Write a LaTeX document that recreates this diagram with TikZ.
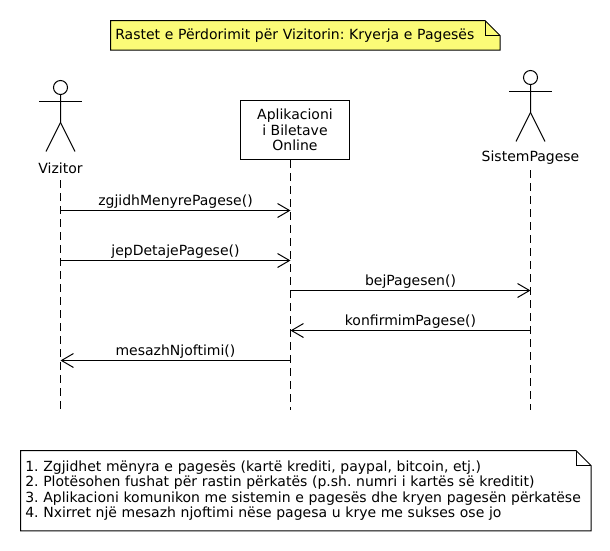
\documentclass[tikz,border=0pt]{standalone}
\usepackage{fontspec}
\setmainfont{DejaVu Sans}
\usetikzlibrary{arrows.meta,positioning,backgrounds}
\definecolor{noteyellow}{HTML}{FBFB77}
% folded corner behind a note node
\newcommand{\notefold}[2]{
  \begin{scope}[on background layer]
    \draw[line width=0.75pt, fill=#2] (#1.south west) |- ([xshift=-11.25]#1.north east) -- ([yshift=-11.25]#1.north east) |- cycle;
    \draw[line width=0.75pt] ([xshift=-11.25]#1.north east) |- ([yshift=-11.25]#1.north east);
  \end{scope}
}

\begin{document}
\begin{tikzpicture}[
  x=0.75pt, y=-0.75pt,
  font=\frenchspacing\fontsize{10.5}{11.7}\selectfont,
  line width=0.75pt,
  note/.style={text width=#1*0.75pt, inner xsep=3.2pt, inner ysep=0pt, align=left, anchor=north west},
  part/.style={draw, minimum width=81.75pt, minimum height=44.25pt, inner sep=0pt, align=center, fill=white},
  life/.style={dash pattern=on 6pt off 3.75pt},
  msg/.style={-{Straight Barb[length=9pt,width=10.5pt]}},
  lbl/.style={above, inner sep=0pt, yshift=1.2pt},
  actor/.pic={
    \draw (0,-7) circle[radius=7];
    \draw (-21.5,7) -- (21.5,7);
    \draw (0,0) -- (0,28) -- (-14.5,57);
    \draw (0,28) -- (14.5,57);
  }
]
\useasboundingbox (0,0) rectangle (610,550);

\node[note=380, minimum height=21.5pt] (title) at (110.5,20.5) {Rastet e Përdorimit për Vizitorin: Kryerja e Pagesës};
\notefold{title}{noteyellow}

\pic at (60.5,94.5) {actor};
\node (vizitor) at (60.5,168) {Vizitor};
\node[part] (app) at (295,130) {Aplikacioni\\i Biletave\\Online};
\pic at (530.5,84.5) {actor};
\node (sistem) at (530.5,158) {SistemPagese};

\coordinate (vizitorTop) at (60.5,180);
\coordinate (vizitorEnd) at (60.5,410);
\coordinate (appTop) at (290.5,160);
\coordinate (appEnd) at (290.5,410);
\coordinate (sistemTop) at (530.5,170);
\coordinate (sistemEnd) at (530.5,410);

\draw[life] (vizitorTop) -- (vizitorEnd);
\draw[life] (appTop) -- (appEnd);
\draw[life] (sistemTop) -- (sistemEnd);

\coordinate (v1) at (60.5,210.5);
\coordinate (a1) at (290.5,210.5);
\coordinate (v2) at (60.5,260.5);
\coordinate (a2) at (290.5,260.5);
\coordinate (a3) at (290.5,290.5);
\coordinate (s3) at (530.5,290.5);
\coordinate (s4) at (530.5,330.5);
\coordinate (a4) at (290.5,330.5);
\coordinate (a5) at (290.5,360.5);
\coordinate (v5) at (60.5,360.5);

\draw[msg] (v1) -- node[lbl] {zgjidhMenyrePagese()} (a1);
\draw[msg] (v2) -- node[lbl] {jepDetajePagese()} (a2);
\draw[msg] (a3) -- node[lbl] {bejPagesen()} (s3);
\draw[msg] (s4) -- node[lbl] {konfirmimPagese()} (a4);
\draw[msg] (a5) -- node[lbl] {mesazhNjoftimi()} (v5);

\node[note=561, minimum height=59.5pt] (steps) at (20.5,450.5) {1. Zgjidhet mënyra e pagesës (kartë krediti, paypal, bitcoin, etj.)\\
2. Plotësohen fushat për rastin përkatës (p.sh. numri i kartës së kreditit)\\
3. Aplikacioni komunikon me sistemin e pagesës dhe kryen pagesën përkatëse\\
4. Nxirret një mesazh njoftimi nëse pagesa u krye me sukses ose jo\\[4pt]};
\notefold{steps}{white}
\end{tikzpicture}
\end{document}
